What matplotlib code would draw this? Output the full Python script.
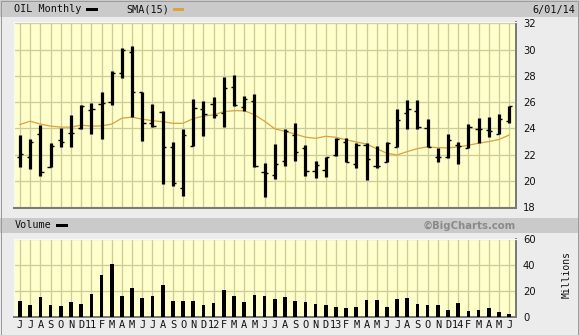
import matplotlib
matplotlib.use("Agg")
import matplotlib.pyplot as plt
from matplotlib.patches import Rectangle
import numpy as np

# ---------------- data ----------------
months = ["J", "J", "A", "S", "O", "N", "D", "11", "F", "M", "A", "M",
          "J", "J", "A", "S", "O", "N", "D", "12", "F", "M", "A", "M",
          "J", "J", "A", "S", "O", "N", "D", "13", "F", "M", "A", "M",
          "J", "J", "A", "S", "O", "N", "D", "14", "F", "M", "A", "M", "J"]

opens = [21.86, 21.86, 23.56, 21.05, 23.12, 23.63, 24.01, 25.41, 25.84, 26.04,
         28.25, 29.79, 26.80, 24.44, 25.28, 22.57, 19.45, 22.67, 25.46, 25.84,
         25.15, 27.18, 25.61, 26.09, 20.67, 20.46, 21.53, 23.50, 22.49, 20.77,
         20.84, 21.98, 22.95, 21.30, 22.74, 21.17, 21.43, 22.62, 25.15, 25.33,
         24.01, 21.86, 21.81, 22.74, 22.49, 23.94, 23.89, 23.56, 24.57]
highs = [23.50, 23.20, 24.27, 22.87, 24.06, 25.03, 25.79, 25.91, 26.80, 28.37,
         30.10, 30.27, 26.80, 25.84, 25.33, 22.95, 23.96, 26.24, 26.09, 26.37,
         27.89, 28.07, 26.47, 26.62, 21.40, 22.82, 23.96, 24.39, 22.74, 21.53,
         21.86, 23.30, 23.25, 22.87, 22.92, 22.67, 22.97, 25.48, 26.17, 26.17,
         24.70, 22.49, 23.58, 22.95, 24.32, 24.77, 24.85, 25.08, 25.71]
lows = [21.10, 20.94, 20.40, 21.05, 22.62, 22.62, 23.96, 23.58, 23.18, 25.79,
        27.86, 24.85, 23.07, 24.14, 19.75, 19.65, 18.89, 22.67, 23.45, 24.77,
        24.14, 25.71, 25.36, 21.10, 18.80, 20.13, 21.17, 21.55, 20.40, 20.21,
        20.34, 21.93, 21.48, 20.97, 20.08, 20.97, 21.43, 22.62, 23.96, 23.94,
        22.62, 21.48, 21.78, 21.30, 22.49, 22.92, 23.38, 23.56, 24.39]
closes = [22.03, 22.95, 20.67, 22.69, 22.95, 23.63, 25.71, 25.48, 25.91, 28.25,
          29.97, 26.80, 24.44, 24.19, 22.57, 19.83, 23.50, 25.53, 25.10, 25.03,
          27.10, 25.79, 26.22, 21.17, 20.64, 21.27, 23.83, 22.24, 20.77, 21.22,
          21.81, 23.20, 21.48, 22.74, 21.65, 21.15, 22.87, 24.65, 25.46, 24.14,
          22.62, 21.86, 23.12, 22.67, 24.09, 23.94, 23.81, 24.70, 25.71]
sma15 = [24.30, 24.55, 24.33, 24.18, 24.10, 24.10, 24.25, 24.18, 24.19, 24.33,
         24.78, 24.86, 24.71, 24.58, 24.52, 24.39, 24.39, 24.75, 24.94, 25.03,
         25.28, 25.35, 25.35, 25.05, 24.55, 23.97, 23.78, 23.57, 23.34, 23.25,
         23.40, 23.33, 23.14, 22.97, 22.81, 22.46, 22.11, 21.98, 22.24, 22.47,
         22.60, 22.54, 22.52, 22.60, 22.72, 22.88, 23.00, 23.16, 23.50]
volume = [12.2, 9.1, 15.3, 9.1, 8.3, 11.4, 9.8, 17.6, 32.3, 40.8,
          16.1, 22.3, 14.5, 16.1, 24.6, 12.2, 12.2, 12.2, 9.1, 10.6,
          20.7, 16.1, 11.4, 16.9, 16.1, 13.7, 15.3, 12.2, 11.4, 9.8,
          9.1, 7.5, 6.7, 7.5, 13.0, 13.0, 7.5, 13.7, 14.5, 9.8,
          9.1, 9.1, 5.2, 10.6, 4.4, 5.2, 6.7, 3.6, 2.1]
price_ticks = [18, 20, 22, 24, 26, 28, 30, 32]
vol_ticks = [0, 20, 40, 60]

# ---------------- styling ----------------
W, H = 579, 335
DPI = 100
PT = 72.0 / DPI          # points per pixel
BG = "#ECECEC"
BAND = "#CACACA"
PLOT_BG = "#FFFFCC"
GRID = "#CCCC99"
SMA_C = "#D9A441"
MONO = "DejaVu Sans Mono"

fig = plt.figure(figsize=(W / DPI, H / DPI), dpi=DPI, facecolor=BG)


def fx(px):
    return px / W


def fy(py):
    return 1 - py / H


def band(y0, y1):
    fig.patches.append(Rectangle((0, fy(y1)), 1, fy(y0) - fy(y1),
                                 transform=fig.transFigure, facecolor=BAND,
                                 edgecolor="none", zorder=0))


band(0, 16.5)
band(218.3, 232.7)
# outer border
fig.patches.append(Rectangle((0.5 / W, 0.5 / H), 1 - 1.5 / W, 1 - 1.5 / H,
                             transform=fig.transFigure, facecolor="none",
                             edgecolor="#9A9A9A", lw=1 * PT, zorder=5))

x = np.arange(len(months))
XL = (-0.59, 48.67)

# ---------------- main price panel ----------------
top, bot = 22.3, 208.0
ax = fig.add_axes([fx(14), fy(bot), fx(516) - fx(14), fy(top) - fy(bot)])
ax.set_facecolor(PLOT_BG)
ax.set_xlim(*XL)
ax.set_ylim(18 - (bot - 207.3) / 13.15, 32 + (23.3 - top) / 13.15)
ax.set_xticks(x)
ax.set_xticklabels([])
ax.set_yticks(price_ticks)
ax.yaxis.tick_right()
ax.tick_params(axis="both", length=0)
ax.tick_params(axis="y", pad=7 * PT, labelsize=7.2, labelcolor="#111111")
ax.grid(True, color=GRID, lw=1.3 * PT, zorder=0)
ax.set_axisbelow(True)

ax.plot(x, sma15, color=SMA_C, lw=1.3 * PT, zorder=2)
ax.vlines(x, lows, highs, color="black", lw=3.2 * PT, zorder=3)
tick = 0.32
ax.hlines(opens, x - tick, x, color="black", lw=1.4 * PT, zorder=3)
ax.hlines(closes, x, x + tick, color="black", lw=1.4 * PT, zorder=3)

for s in ("left", "top"):
    ax.spines[s].set_color("#F8F8F8")
    ax.spines[s].set_linewidth(1.2 * PT)
for s in ("right", "bottom"):
    ax.spines[s].set_color("#7A7A7A")
    ax.spines[s].set_linewidth(2 * PT)

# ---------------- volume panel ----------------
vtop, vbot = 239.3, 316.7
axv = fig.add_axes([fx(14), fy(vbot), fx(516) - fx(14), fy(vtop) - fy(vbot)])
axv.set_facecolor(PLOT_BG)
axv.set_xlim(*XL)
axv.set_ylim(0, 60)
axv.bar(x, volume, width=0.36, color="black", zorder=3)
axv.set_xticks(x)
axv.set_xticklabels(months, fontfamily=MONO, fontsize=7.4)
axv.set_yticks(vol_ticks)
axv.yaxis.tick_right()
axv.tick_params(axis="both", length=0)
axv.tick_params(axis="y", pad=7 * PT, labelsize=7.2, labelcolor="#111111")
axv.tick_params(axis="x", pad=3 * PT, labelcolor="#111111")
axv.grid(True, color=GRID, lw=1.3 * PT, zorder=0)
axv.set_axisbelow(True)
for s in ("left", "top"):
    axv.spines[s].set_color("#F8F8F8")
    axv.spines[s].set_linewidth(1.2 * PT)
for s in ("right", "bottom"):
    axv.spines[s].set_color("#7A7A7A")
    axv.spines[s].set_linewidth(2 * PT)

# ---------------- header texts ----------------
fig.text(fx(14), fy(9.5), "OIL Monthly", fontfamily=MONO, fontsize=7.3,
         va="center", ha="left", color="#111111")
fig.patches.append(Rectangle((fx(86), fy(11)), fx(11.5), fy(8) - fy(11),
                             transform=fig.transFigure, facecolor="black",
                             edgecolor="none", zorder=6))
fig.text(fx(126), fy(9.5), "SMA(15)", fontfamily=MONO, fontsize=7.3,
         va="center", ha="left", color="#111111")
fig.patches.append(Rectangle((fx(172.5), fy(11)), fx(11.5), fy(8) - fy(11),
                             transform=fig.transFigure, facecolor=SMA_C,
                             edgecolor="none", zorder=6))
fig.text(fx(575), fy(9.5), "6/01/14", fontfamily=MONO, fontsize=7.3,
         va="center", ha="right", color="#111111")

fig.text(fx(15), fy(225.5), "Volume", fontfamily=MONO, fontsize=7.3,
         va="center", ha="left", color="#111111")
fig.patches.append(Rectangle((fx(56), fy(227)), fx(11.5), fy(224) - fy(227),
                             transform=fig.transFigure, facecolor="black",
                             edgecolor="none", zorder=6))
fig.text(fx(516), fy(225.5), "\u00a9BigCharts.com", fontfamily="DejaVu Sans",
         fontsize=7.3, fontweight="bold", va="center", ha="right",
         color="#8A8A8A")
fig.text(fx(567), fy(275), "Millions", fontfamily=MONO, fontsize=7.0,
         rotation=90, va="center", ha="center", color="#111111")

fig.savefig("out.png", dpi=DPI, facecolor=BG)
